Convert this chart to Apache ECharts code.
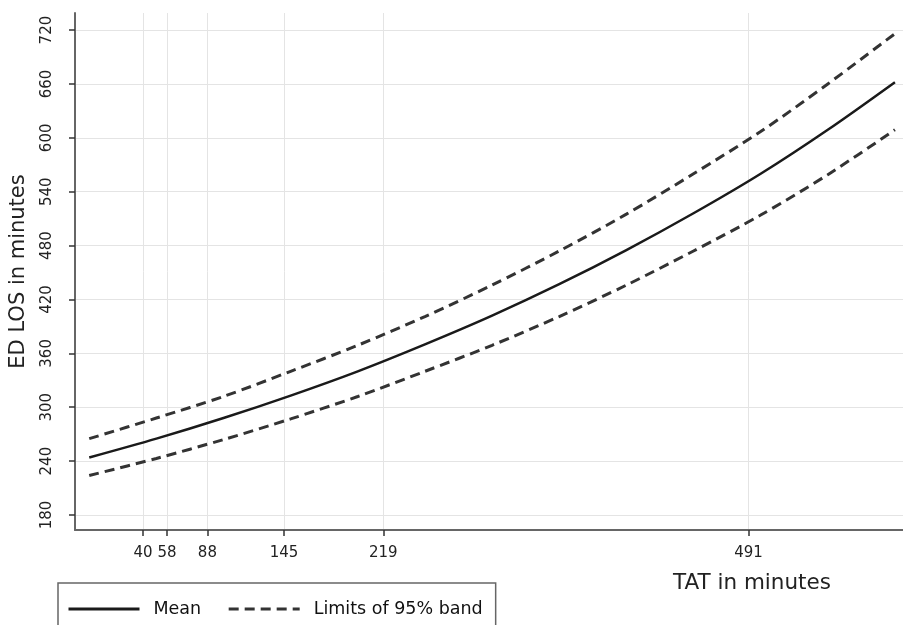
<!DOCTYPE html>
<html>
<head>
<meta charset="utf-8">
<script src="https://cdn.jsdelivr.net/npm/echarts@6/dist/echarts.min.js"></script>
<style>
html,body{margin:0;padding:0;background:#fff;}
#chart{width:903px;height:625px;}
</style>
</head>
<body>
<div id="chart"></div>
<script>
var tat   = [0, 50, 100, 150, 200, 250, 300, 350, 400, 450, 500, 550, 600];
var meanLOS  = [244, 265, 288, 313, 340, 370, 402, 437, 475, 516, 560, 609, 662];
var upperLOS = [265, 288, 312, 340, 369, 401, 436, 474, 515, 560, 607, 660, 716];
var lowerLOS = [224, 243, 264, 287, 312, 340, 369, 401, 436, 474, 514, 559, 609];
var xTicks = [40, 58, 88, 145, 219, 491];
var yTicks = [180, 240, 300, 360, 420, 480, 540, 600, 660, 720];

function pairs(xs, ys){ return xs.map(function(x,i){ return [x, ys[i]]; }); }

var font = '"DejaVu Sans", sans-serif';
var chart = echarts.init(document.getElementById('chart'));
chart.setOption({
  backgroundColor: '#fff',
  animation: false,
  grid: { left: 73, right: 0, top: 13, bottom: 95 },
  xAxis: {
    type: 'value', min: -10.6, max: 606,
    axisLine: { onZero: false, lineStyle: { color: '#666', width: 2 } },
    axisTick: { customValues: xTicks, length: 6, lineStyle: { color: '#333', width: 1.5 } },
    axisLabel: { customValues: xTicks, color: '#222', fontSize: 15, fontFamily: font, margin: 16 },
    splitLine: { show: true, lineStyle: { color: '#e4e4e4', width: 1 } }
  },
  yAxis: {
    type: 'value', min: 163.3, max: 739,
    name: 'ED LOS in minutes', nameLocation: 'middle', nameGap: 46, nameRotate: 90,
    nameTextStyle: { color: '#222', fontSize: 21, fontFamily: font },
    axisLine: { show: true, onZero: false, lineStyle: { color: '#666', width: 2 } },
    axisTick: { show: true, customValues: yTicks, length: 6, lineStyle: { color: '#333', width: 1.5 } },
    axisLabel: { customValues: yTicks, rotate: 90, color: '#222', fontSize: 15, fontFamily: font, margin: 20 },
    splitLine: { show: true, lineStyle: { color: '#e4e4e4', width: 1 } }
  },
  legend: {
    left: 58, top: 583,
    padding: [17, 13, 30, 9],
    borderColor: '#666', borderWidth: 1.5,
    itemWidth: 71, itemHeight: 14, itemGap: 26,
    itemStyle: { opacity: 0 },
    lineStyle: { width: 3 },
    textStyle: { color: '#111', fontSize: 17.5, fontFamily: font, padding: [0, 0, 0, 9] },
    data: ['Mean', 'Limits of 95% band']
  },
  graphic: [{
    type: 'text', left: 673, top: 572,
    style: { text: 'TAT in minutes', fill: '#222', font: '21.5px "DejaVu Sans", sans-serif' }
  }],
  series: [
    { name: 'Mean', type: 'line', data: pairs(tat, meanLOS), smooth: 0.3, symbol: 'none',
      lineStyle: { color: '#1a1a1a', width: 2.5, type: 'solid' }, itemStyle: { color: '#1a1a1a' } },
    { name: 'Limits of 95% band', type: 'line', data: pairs(tat, upperLOS), smooth: 0.3, symbol: 'none',
      lineStyle: { color: '#333', width: 3, type: [10, 6] }, itemStyle: { color: '#333' } },
    { name: 'Limits of 95% band', type: 'line', data: pairs(tat, lowerLOS), smooth: 0.3, symbol: 'none',
      lineStyle: { color: '#333', width: 3, type: [10, 6] }, itemStyle: { color: '#333' } }
  ]
});
</script>
</body>
</html>
